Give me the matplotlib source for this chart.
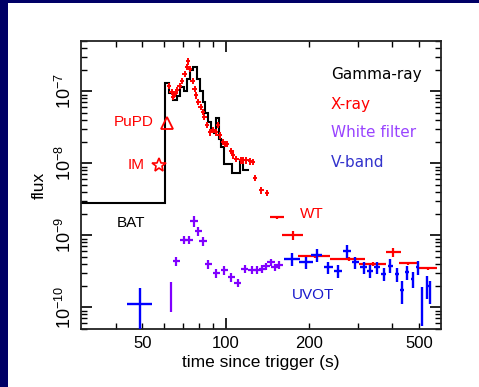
import numpy as np
import matplotlib
matplotlib.use("Agg")
import matplotlib.pyplot as plt
from matplotlib.ticker import FixedLocator, FuncFormatter, NullFormatter
from matplotlib.patches import Rectangle

plt.rcParams['font.family'] = ['Liberation Sans', 'DejaVu Sans']
plt.rcParams['mathtext.default'] = 'regular'

# BAT gamma-ray light curve (step), bin edges in s
bat_edges = [30, 60.5, 62.5, 64.5, 66.5, 68.5, 70.5, 72.5, 74.5, 76.5, 78.5, 80.5,
             82.5, 84.5, 86.5, 88.5, 90.5, 92.5, 94.5, 96.5, 98.5, 105.6, 113.1,
             115.1, 121.1]
bat_flux = [2.85e-9, 1.3e-7, 9.5e-8, 7.5e-8, 8.5e-8, 1.15e-7, 1.0e-7, 1.5e-7,
            2.0e-7, 2.2e-7, 1.5e-7, 1.0e-7, 7e-8, 5e-8, 3.8e-8, 2.8e-8, 2.6e-8,
            4.2e-8, 2.2e-8, 1.7e-8, 9.9e-9, 7.3e-9, 1.12e-8, 8.2e-9]

# XRT early points
xrt_t = [62.4, 63.8, 64.4, 65.4, 66.8, 68.1, 69.5, 71.0, 72.4, 73.0, 74.4, 75.9,
         77.2, 78.3, 79.7, 81.1, 82.7, 83.8, 85.7, 87.7, 89.7, 92.3, 93.6, 95.0,
         97.8, 99.2, 101.4, 104.9, 106.4, 109.4, 113.4, 115.7, 118.9, 122.3, 125.2,
         128, 134.6, 141]
xrt_f = [1.2e-7, 9.8e-8, 8.3e-8, 9.3e-8, 1.03e-7, 1.2e-7, 1.4e-7, 1.76e-7, 2.2e-7,
         2.6e-7, 2.07e-7, 1.4e-7, 1.09e-7, 8.8e-8, 7.1e-8, 6.05e-8, 5.2e-8, 4.4e-8,
         3.4e-8, 2.7e-8, 2.9e-8, 2.7e-8, 3.4e-8, 2.45e-8, 2.0e-8, 1.87e-8, 1.87e-8,
         1.5e-8, 1.29e-8, 1.16e-8, 1.1e-8, 1.1e-8, 1.1e-8, 1.07e-8, 1.04e-8,
         6.3e-9, 4.2e-9, 3.85e-9]

# XRT later (binned) points
xrt2_t = [153.4, 174.6, 211, 278, 342, 404, 457, 540]
xrt2_f = [1.77e-9, 1.0e-9, 5.1e-10, 4.7e-10, 4.0e-10, 5.8e-10, 4.1e-10, 3.5e-10]
xrt2_dt = [9, 15, 28, 40, 38, 25, 35, 40]
xrt2_df = [0.05, 0.15, 0.05, 0.05, 0.05, 0.15, 0.05, 0.05]

# UVOT white filter
wh_t = [63.2, 66.3, 70.6, 73.7, 76.9, 79.7, 82.8, 86.5, 92.5, 98.9, 104.8, 110.6,
        117.3, 124.5, 130, 135.6, 140.1, 145.9, 150.8, 156]
wh_f = [1.55e-10, 4.35e-10, 8.6e-10, 8.7e-10, 1.57e-9, 1.15e-9, 8.3e-10, 4.0e-10,
        3.0e-10, 3.3e-10, 2.63e-10, 2.2e-10, 3.45e-10, 3.3e-10, 3.35e-10,
        3.45e-10, 3.7e-10, 4.2e-10, 3.6e-10, 3.9e-10]
wh_df = [0.45, 0.14, 0.12, 0.12, 0.18, 0.14, 0.14, 0.14, 0.14, 0.14, 0.14, 0.14,
         0.12, 0.12, 0.12, 0.12, 0.12, 0.12, 0.12, 0.12]

# UVOT V band
v_t = [49, 174, 195, 213, 235, 255, 274, 294, 315, 333, 352, 372, 394, 416, 434,
       452, 474, 495, 512, 536, 549]
v_f = [1.12e-10, 4.7e-10, 4.2e-10, 5.4e-10, 3.6e-10, 3.2e-10, 6.1e-10, 4.2e-10,
       3.6e-10, 3.2e-10, 3.6e-10, 2.9e-10, 3.8e-10, 2.9e-10, 1.72e-10, 3.1e-10,
       2.5e-10, 3.6e-10, 1.23e-10, 2.0e-10, 1.72e-10]
v_dt = [5, 11, 11, 10, 9, 9, 9, 9, 8, 8, 8, 7, 7, 7, 6, 6, 6, 6, 5, 5, 5]
v_df = [0.68, 0.2, 0.2, 0.2, 0.2, 0.2, 0.2, 0.2, 0.2, 0.2, 0.2, 0.2,
        0.22, 0.22, 0.35, 0.22, 0.25, 0.22, 0.55, 0.35, 0.35]

RED = '#ff0000'
PURPLE = '#8000ff'
BLUE = '#0000ff'

fig = plt.figure(figsize=(4.79, 3.87), dpi=100)
fig.patch.set_facecolor('#000066')
fig.patches.append(Rectangle((8 / 479, 0), 1, 1 - 2.5 / 387, transform=fig.transFigure,
                             facecolor='white', edgecolor='none', zorder=-10))
ax = fig.add_axes([81 / 479, 1 - 329 / 387, 360 / 479, 288 / 387])
ax.set_xscale('log')
ax.set_yscale('log')
ax.set_xlim(30, 600)
ax.set_ylim(5e-11, 5e-7)

ax.stairs(bat_flux, bat_edges, baseline=None, color='black', lw=1.5, zorder=2)

xt = np.array(xrt_t)
xf = np.array(xrt_f)
ax.errorbar(xt, xf, xerr=xt * 0.018, yerr=xf * 0.1, fmt='none', ecolor=RED,
            elinewidth=1.4, zorder=3)
x2f = np.array(xrt2_f)
ax.errorbar(xrt2_t, x2f, xerr=xrt2_dt, yerr=x2f * np.array(xrt2_df), fmt='none',
            ecolor=RED, elinewidth=1.6, zorder=3)

wt = np.array(wh_t)
wf = np.array(wh_f)
wdt = wt * 0.03
wdt[0] = 0.2
ax.errorbar(wt, wf, xerr=wdt, yerr=wf * np.array(wh_df), fmt='none',
            ecolor=PURPLE, elinewidth=1.6, zorder=3)

vf = np.array(v_f)
vdf = np.array(v_df)
vlo = vf * vdf
vlo[0] = vf[0] * 0.95
ax.errorbar(v_t, vf, xerr=v_dt, yerr=[vlo, vf * vdf], fmt='none',
            ecolor=BLUE, elinewidth=1.7, zorder=3)

# markers for PuPD and IM
ax.plot([61.5], [3.6e-8], marker='^', ms=8, mfc='none', mec=RED, mew=1.3, ls='none',
        zorder=4)
ax.plot([57.2], [9.4e-9], marker='*', ms=10, mfc='none', mec=RED, mew=1.2, ls='none',
        zorder=4)

ax.text(55.1, 3.75e-8, 'PuPD', color=RED, fontsize=11, ha='right', va='center')
ax.text(51, 9.5e-9, 'IM', color=RED, fontsize=11, ha='right', va='center')
ax.text(40.5, 1.48e-9, 'BAT', color='black', fontsize=11, ha='left', va='center')
ax.text(186, 2.0e-9, 'WT', color=RED, fontsize=11, ha='left', va='center')
ax.text(173, 1.47e-10, 'UVOT', color='#1a1acc', fontsize=11, ha='left', va='center')

lx = 0.694
ax.text(lx, 0.882, 'Gamma-ray', color='black', fontsize=11, transform=ax.transAxes,
        family=['DejaVu Sans'], va='center')
ax.text(lx, 0.781, 'X-ray', color=RED, fontsize=11, transform=ax.transAxes,
        family=['DejaVu Sans'], va='center')
ax.text(lx, 0.682, 'White filter', color='#9944ff', fontsize=11,
        transform=ax.transAxes, family=['DejaVu Sans'], va='center')
ax.text(lx, 0.579, 'V-band', color='#3333cc', fontsize=11, transform=ax.transAxes,
        family=['DejaVu Sans'], va='center')

# ticks
ax.xaxis.set_major_locator(FixedLocator([100]))
ax.xaxis.set_minor_locator(FixedLocator([40, 50, 60, 70, 80, 90, 200, 300, 400, 500]))
ax.xaxis.set_major_formatter(FuncFormatter(lambda v, p: f"{v:g}"))
ax.xaxis.set_minor_formatter(FuncFormatter(
    lambda v, p: f"{v:g}" if v in (50, 200, 500) else ""))
ax.yaxis.set_major_locator(FixedLocator([1e-10, 1e-9, 1e-8, 1e-7]))
ax.yaxis.set_major_formatter(FuncFormatter(
    lambda v, p: r'$10^{%d}$' % round(np.log10(v))))
ax.yaxis.set_minor_formatter(NullFormatter())
ax.tick_params(which='both', direction='in', top=True, right=True, color='black')
ax.tick_params(which='major', length=8, width=1.2)
ax.tick_params(which='minor', length=4.5, width=1.0)
ax.tick_params(axis='x', which='both', labelsize=12, pad=5)
ax.tick_params(axis='y', which='major', labelsize=13, labelrotation=90, pad=4)
for lab in ax.get_yticklabels():
    lab.set_va('center')
for s in ax.spines.values():
    s.set_linewidth(1.3)
    s.set_color('#222222')

ax.set_xlabel('time since trigger (s)', fontsize=12.5, labelpad=3)
ax.set_ylabel('flux', fontsize=12.5, labelpad=6)

fig.savefig('out.png', dpi=100, facecolor=fig.get_facecolor())
